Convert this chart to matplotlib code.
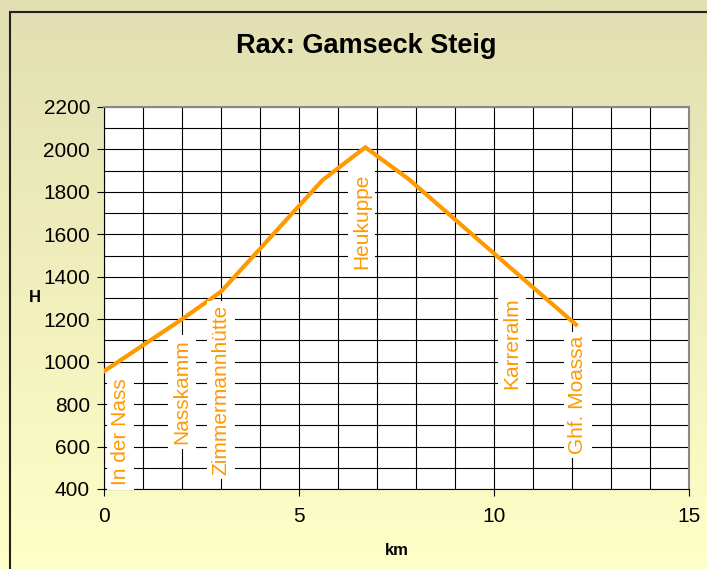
import numpy as np
import matplotlib.pyplot as plt
from matplotlib.colors import LinearSegmentedColormap
from matplotlib.patches import Rectangle

plt.rcParams['font.family'] = ['Liberation Sans', 'DejaVu Sans']

# route profile
km = [0.0, 2.0, 3.0, 5.6, 6.7, 7.8, 10.5, 12.1]
height = [955, 1200, 1330, 1855, 2010, 1862, 1430, 1175]

# waypoint labels (name, km, label centre height)
names = ['In der Nass', 'Nasskamm', 'Zimmermannhütte', 'Heukuppe', 'Karreralm', 'Ghf. Moassa']
name_km = [0.43, 2.0, 3.0, 6.6, 10.46, 12.15]
name_h = [668, 857, 867, 1663, 1088, 843]

orange = '#FF9900'

fig = plt.figure(figsize=(7.07, 5.69), dpi=100)

# background gradient
bg = fig.add_axes([0, 0, 1, 1], zorder=-10)
cmap = LinearSegmentedColormap.from_list('bg', ['#FFFFC8', '#E1DFB1'])
grad = np.linspace(0, 1, 256).reshape(-1, 1)
bg.imshow(grad, aspect='auto', cmap=cmap, origin='lower', extent=[0, 1, 0, 1])
bg.add_patch(Rectangle((10 / 707, -0.05), 1.0, 1 - 12 / 569 + 0.05, fill=False,
                       edgecolor='#222222', linewidth=1.5, transform=bg.transAxes))
bg.set_axis_off()
bg.set_xlim(0, 1)
bg.set_ylim(0, 1)

ax = fig.add_axes([104 / 707, 1 - 489 / 569, 585 / 707, 382 / 569])
ax.set_facecolor('white')
ax.plot(km, height, color=orange, linewidth=3, solid_joinstyle='miter', zorder=3)

for n, x, y in zip(names, name_km, name_h):
    ax.text(x, y, n, rotation=90, ha='center', va='center', color=orange, fontsize=15,
            bbox=dict(facecolor='white', edgecolor='none', pad=3), zorder=4)

ax.set_xlim(0, 15)
ax.set_ylim(400, 2200)
ax.set_xticks([0, 5, 10, 15])
ax.set_yticks(np.arange(400, 2201, 200))
ax.set_xticks(np.arange(0, 16, 1), minor=True)
ax.set_yticks(np.arange(400, 2201, 100), minor=True)
ax.tick_params(axis='x', which='minor', length=0)
ax.tick_params(axis='y', which='minor', length=0)
ax.tick_params(which='major', direction='out', length=5, labelsize=15, pad=5)
ax.tick_params(axis='x', pad=8)
ax.grid(which='both', color='black', linewidth=0.8)
ax.set_axisbelow(True)
for s in ['top', 'right']:
    ax.spines[s].set_color('#888888')
    ax.spines[s].set_linewidth(1.5)

ax.set_xlabel('km', fontsize=12, fontweight='bold', labelpad=12)
ax.set_ylabel('H', fontsize=12, fontweight='bold', rotation=0, labelpad=6, va='center')

fig.text(366 / 707, 1 - 46 / 569, 'Rax: Gamseck Steig', ha='center', va='center',
         fontsize=19.5, fontweight='bold')

fig.savefig('out.png', dpi=100)
